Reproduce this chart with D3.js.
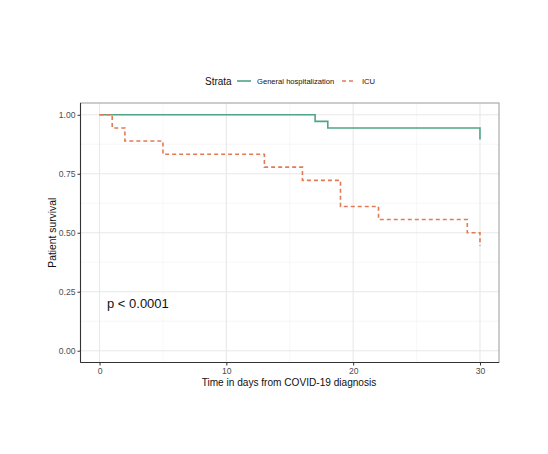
<!DOCTYPE html>
<html><head><meta charset="utf-8">
<script src="https://cdn.jsdelivr.net/npm/d3@7"></script>
<style>body{margin:0;background:#fff;}svg{display:block;font-family:"Liberation Sans",Arial,sans-serif;}</style>
</head><body><svg id="c" width="548" height="454"></svg>
<script>
const seriesNames = ["General hospitalization", "ICU"];
const generalTimes = [0, 17, 18, 30];
const generalSurv = [1.0, 0.972, 0.944, 0.895];
const icuTimes = [0, 1, 2, 5, 13, 16, 19, 22, 29, 30];
const icuSurv = [1.0, 0.944, 0.889, 0.833, 0.778, 0.722, 0.611, 0.556, 0.5, 0.444];
const xTicks = [0, 10, 20, 30];
const yTicks = [0, 0.25, 0.5, 0.75, 1.0];
const pLabel = "p < 0.0001";

const svg = d3.select("#c");
const L = 80.5, R = 499, T = 103, B = 362.5;
const x = d3.scaleLinear().domain([-1.5, 31.5]).range([L, R]);
const y = d3.scaleLinear().domain([-0.05, 1.05]).range([B, T]);
const colors = ["#4fa584", "#e27b55"];

// grid
const g = svg.append("g");
const xMinor = [5, 15, 25], yMinor = [0.125, 0.375, 0.625, 0.875];
xMinor.forEach(v => g.append("line").attr("x1", x(v)).attr("x2", x(v)).attr("y1", T).attr("y2", B).attr("stroke", "#f2f2f2").attr("stroke-width", 0.6));
yMinor.forEach(v => g.append("line").attr("y1", y(v)).attr("y2", y(v)).attr("x1", L).attr("x2", R).attr("stroke", "#f2f2f2").attr("stroke-width", 0.6));
xTicks.forEach(v => g.append("line").attr("x1", x(v)).attr("x2", x(v)).attr("y1", T).attr("y2", B).attr("stroke", "#e8e8e8").attr("stroke-width", 1.1));
yTicks.forEach(v => g.append("line").attr("y1", y(v)).attr("y2", y(v)).attr("x1", L).attr("x2", R).attr("stroke", "#e8e8e8").attr("stroke-width", 1.1));

// panel border
svg.append("rect").attr("x", L).attr("y", T).attr("width", R - L).attr("height", B - T)
  .attr("fill", "none").attr("stroke", "#999").attr("stroke-width", 1);

// step curves
const line = d3.line().x(d => x(d[0])).y(d => y(d[1])).curve(d3.curveStepAfter);
const gen = generalTimes.map((t, i) => [t, generalSurv[i]]);
const icu = icuTimes.map((t, i) => [t, icuSurv[i]]);
svg.append("path").attr("d", line(gen)).attr("fill", "none").attr("stroke", colors[0]).attr("stroke-width", 1.6);
svg.append("path").attr("d", line(icu)).attr("fill", "none").attr("stroke", colors[1]).attr("stroke-width", 1.6).attr("stroke-dasharray", "4,3");

// axes
const xAxis = d3.axisBottom(x).tickValues(xTicks).tickSize(3).tickPadding(2).tickFormat(d3.format("d"));
const xa = svg.append("g").attr("transform", `translate(0,${B})`).call(xAxis);
const yAxis = d3.axisLeft(y).tickValues(yTicks).tickSize(3).tickPadding(2).tickFormat(d3.format(".2f"));
const ya = svg.append("g").attr("transform", `translate(${L},0)`).call(yAxis);
[xa, ya].forEach(a => {
  a.select(".domain").attr("stroke", "#333").attr("stroke-width", 1.1);
  a.selectAll(".tick line").attr("stroke", "#333");
  a.selectAll(".tick text").attr("fill", "#4d4d4d").style("font-size", "8.6px").style("font-family", "Liberation Sans, Arial, sans-serif");
});
xa.select(".domain").attr("d", `M${L},0H${R}`);
ya.select(".domain").attr("d", `M0,${B}V${T}`);

// axis titles
svg.append("text").attr("x", 289).attr("y", 386).attr("text-anchor", "middle")
  .style("font-size", "10.1px").attr("fill", "#111").text("Time in days from COVID-19 diagnosis");
svg.append("text").attr("transform", `translate(56,${(T + B) / 2}) rotate(-90)`).attr("text-anchor", "middle")
  .style("font-size", "10.3px").attr("fill", "#111").text("Patient survival");

// p-value
svg.append("text").attr("x", 107).attr("y", 308).style("font-size", "13px").attr("fill", "#111").text(pLabel);

// legend
const lg = svg.append("g");
lg.append("text").attr("x", 205).attr("y", 84.5).style("font-size", "10px").attr("fill", "#111").text("Strata");
lg.append("line").attr("x1", 237).attr("x2", 251).attr("y1", 81).attr("y2", 81).attr("stroke", colors[0]).attr("stroke-width", 1.6);
lg.append("text").attr("x", 257).attr("y", 84).style("font-size", "7.6px").attr("fill", "#111").text(seriesNames[0]);
lg.append("line").attr("x1", 342).attr("x2", 355).attr("y1", 81).attr("y2", 81).attr("stroke", colors[1]).attr("stroke-width", 1.6).attr("stroke-dasharray", "4,3");
lg.append("text").attr("x", 362).attr("y", 84).style("font-size", "7.6px").attr("fill", "#111").text(seriesNames[1]);
</script></body></html>
